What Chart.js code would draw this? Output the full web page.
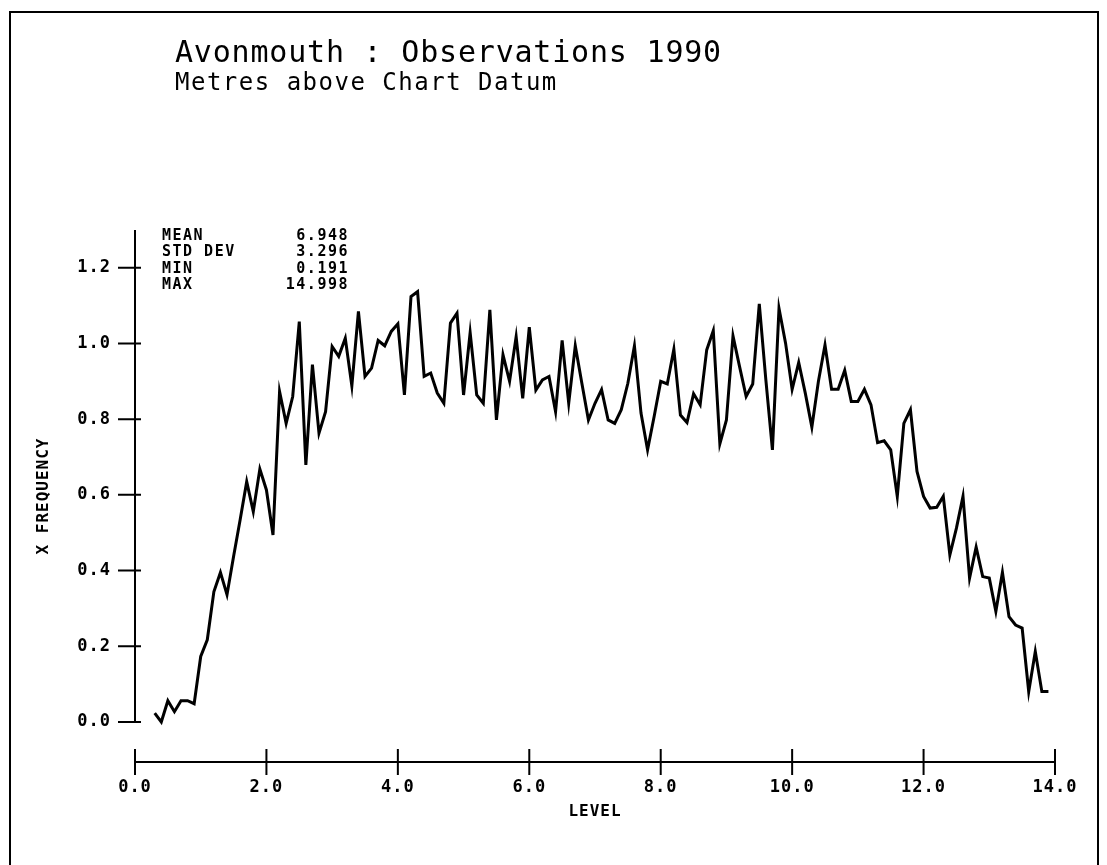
<!DOCTYPE html>
<html>
<head>
<meta charset="utf-8">
<title>Avonmouth : Observations 1990</title>
<script src="https://cdn.jsdelivr.net/npm/chart.js@4.4.1/dist/chart.umd.min.js"></script>
<style>
  html, body { margin: 0; padding: 0; background: #fff; }
  #wrap { position: relative; width: 1107px; height: 865px; overflow: hidden; }
  #frame { position: absolute; left: 9px; top: 11px; width: 1086px; height: 900px; border: 2px solid #000; pointer-events: none; }
  canvas { position: absolute; left: 0; top: 0; }
  .title { position: absolute; left: 175px; top: 37px; font: 30px "DejaVu Sans Mono", monospace; line-height: 30px; letter-spacing: 0.8px; color: #000; white-space: nowrap; }
  .subtitle { position: absolute; left: 175px; top: 70px; font: 24px "DejaVu Sans Mono", monospace; line-height: 24px; letter-spacing: 1.5px; color: #000; white-space: nowrap; }
  .stat { position: absolute; font: bold 15px "DejaVu Sans Mono", monospace; line-height: 16px; letter-spacing: 1.5px; color: #000; white-space: nowrap; }
</style>
</head>
<body>
<div id="wrap">
  <canvas id="levelChart" width="1107" height="865"></canvas>
  <div id="frame"></div>
  <div class="title">Avonmouth : Observations 1990</div>
  <div class="subtitle">Metres above Chart Datum</div>
  <div id="stats"></div>
</div>
<script>
// level (m above chart datum) and % frequency
const levels = [
  0.3, 0.4, 0.5, 0.6, 0.7, 0.8, 0.9, 1.0, 1.1, 1.2, 1.3, 1.4, 1.5, 1.6, 1.7, 1.8, 1.9,
  2.0, 2.1, 2.2, 2.3, 2.4, 2.5, 2.6, 2.7, 2.8, 2.9, 3.0, 3.1, 3.2, 3.3, 3.4, 3.5, 3.6,
  3.7, 3.8, 3.9, 4.0, 4.1, 4.2, 4.3, 4.4, 4.5, 4.6, 4.7, 4.8, 4.9, 5.0, 5.1, 5.2, 5.3,
  5.4, 5.5, 5.6, 5.7, 5.8, 5.9, 6.0, 6.1, 6.2, 6.3, 6.4, 6.5, 6.6, 6.7, 6.8, 6.9, 7.0,
  7.1, 7.2, 7.3, 7.4, 7.5, 7.6, 7.7, 7.8, 7.9, 8.0, 8.1, 8.2, 8.3, 8.4, 8.5, 8.6, 8.7,
  8.8, 8.9, 9.0, 9.1, 9.2, 9.3, 9.4, 9.5, 9.6, 9.7, 9.8, 9.9, 10.0, 10.1, 10.2, 10.3,
  10.4, 10.5, 10.6, 10.7, 10.8, 10.9, 11.0, 11.1, 11.2, 11.3, 11.4, 11.5, 11.6, 11.7,
  11.8, 11.9, 12.0, 12.1, 12.2, 12.3, 12.4, 12.5, 12.6, 12.7, 12.8, 12.9, 13.0, 13.1,
  13.2, 13.3, 13.4, 13.5, 13.6, 13.7, 13.8, 13.9
];
const frequency = [
  0.023, 0.000, 0.056, 0.027, 0.056, 0.056, 0.048, 0.173, 0.217, 0.344, 0.395, 0.336, 0.437, 0.534, 0.635, 0.556, 0.668,
  0.613, 0.494, 0.873, 0.789, 0.860, 1.058, 0.679, 0.944, 0.763, 0.820, 0.992, 0.966, 1.014, 0.888, 1.085, 0.913, 0.935,
  1.008, 0.994, 1.032, 1.052, 0.864, 1.124, 1.137, 0.913, 0.922, 0.869, 0.842, 1.054, 1.080, 0.864, 1.029, 0.864, 0.842,
  1.089, 0.798, 0.970, 0.900, 1.018, 0.855, 1.043, 0.877, 0.904, 0.913, 0.820, 1.008, 0.842, 0.994, 0.895, 0.798, 0.842,
  0.878, 0.798, 0.789, 0.825, 0.895, 0.994, 0.816, 0.719, 0.807, 0.900, 0.893, 0.985, 0.811, 0.791, 0.867, 0.838, 0.983,
  1.034, 0.735, 0.798, 1.020, 0.939, 0.860, 0.893, 1.105, 0.904, 0.719, 1.093, 1.001, 0.879, 0.950, 0.869, 0.779,
  0.900, 0.996, 0.879, 0.879, 0.929, 0.847, 0.847, 0.879, 0.838, 0.738, 0.743, 0.719, 0.596, 0.789,
  0.825, 0.662, 0.596, 0.565, 0.567, 0.596, 0.441, 0.512, 0.596, 0.380, 0.462, 0.384, 0.380, 0.292,
  0.395, 0.278, 0.256, 0.248, 0.080, 0.186, 0.080, 0.080
];
const yTicks = [0, 0.2, 0.4, 0.6, 0.8, 1.0, 1.2];
const xTicks = [0, 2, 4, 6, 8, 10, 12, 14];
const statNames = ["MEAN", "STD DEV", "MIN", "MAX"];
const statValues = ["6.948", "3.296", "0.191", "14.998"];

const Y_MIN = -0.106;
const Y_MAX = 1.3;

// stats block, top left of the plot
const stats = document.getElementById("stats");
statNames.forEach(function (name, i) {
  const top = 227 + i * 16.3;
  const a = document.createElement("div");
  a.className = "stat";
  a.style.left = "162px";
  a.style.top = top + "px";
  a.textContent = name;
  const b = document.createElement("div");
  b.className = "stat";
  b.style.right = (1107 - 349) + "px";
  b.style.top = top + "px";
  b.textContent = statValues[i];
  stats.appendChild(a);
  stats.appendChild(b);
});

// y axis line stops at 0.0, ticks cross the axis lines
const axisMarks = {
  id: "axisMarks",
  beforeDraw(chart) {
    chart.ctx.letterSpacing = "1px";
  },
  afterDraw(chart) {
    const ctx = chart.ctx;
    const x = chart.scales.x;
    const y = chart.scales.y;
    const x0 = x.left;
    ctx.save();
    ctx.letterSpacing = "0px";
    ctx.strokeStyle = "#000";
    ctx.lineWidth = 2;
    ctx.beginPath();
    ctx.moveTo(x0, y.getPixelForValue(Y_MAX));
    ctx.lineTo(x0, y.getPixelForValue(0) + 1);
    y.ticks.forEach(function (t) {
      const p = y.getPixelForValue(t.value);
      ctx.moveTo(x0 - 17, p);
      ctx.lineTo(x0 + 6, p);
    });
    x.ticks.forEach(function (t) {
      const p = x.getPixelForValue(t.value);
      ctx.moveTo(p, x.top - 13);
      ctx.lineTo(p, x.top + 13);
    });
    ctx.stroke();
    ctx.restore();
  },
};

const tickFont = { family: "'DejaVu Sans Mono', monospace", size: 17, weight: "bold" };
const titleFont = { family: "'DejaVu Sans Mono', monospace", size: 16, weight: "bold" };
const ctx = document.getElementById("levelChart").getContext("2d");
const levelChart = new Chart(ctx, {
  type: "line",
  data: {
    datasets: [
      {
        label: "% Frequency",
        data: levels.map(function (l, i) { return { x: l, y: frequency[i] }; }),
        borderColor: "#000",
        borderWidth: 3,
        pointRadius: 0,
        tension: 0,
        fill: false,
      },
    ],
  },
  options: {
    responsive: false,
    animation: false,
    devicePixelRatio: 1,
    layout: {
      autoPadding: false,
      padding: { left: 0, top: 230, right: 52, bottom: 0 },
    },
    plugins: {
      legend: { display: false },
      tooltip: { enabled: false },
    },
    scales: {
      x: {
        type: "linear",
        min: 0,
        max: 14,
        afterBuildTicks: function (scale) {
          scale.ticks = xTicks.map(function (v) { return { value: v }; });
        },
        afterFit: function (scale) {
          scale.height = 103;
        },
        grid: { display: false, drawTicks: false },
        border: { display: true, color: "#000", width: 2 },
        ticks: {
          color: "#000",
          font: tickFont,
          padding: 15,
          maxRotation: 0,
          callback: function (v) { return Number(v).toFixed(1); },
        },
        title: {
          display: true,
          text: "LEVEL",
          color: "#000",
          font: titleFont,
          padding: { top: 0, bottom: 44 },
        },
      },
      y: {
        type: "linear",
        min: Y_MIN,
        max: Y_MAX,
        afterBuildTicks: function (scale) {
          scale.ticks = yTicks.map(function (v) { return { value: v }; });
        },
        afterFit: function (scale) {
          scale.width = 135;
        },
        grid: { display: false, drawTicks: false },
        border: { display: false },
        ticks: {
          color: "#000",
          font: tickFont,
          padding: 24,
          callback: function (v) { return Number(v).toFixed(1); },
        },
        title: {
          display: true,
          text: "X FREQUENCY",
          color: "#000",
          font: titleFont,
          padding: { top: 34, bottom: 0 },
        },
      },
    },
  },
  plugins: [axisMarks],
});
</script>
</body>
</html>
